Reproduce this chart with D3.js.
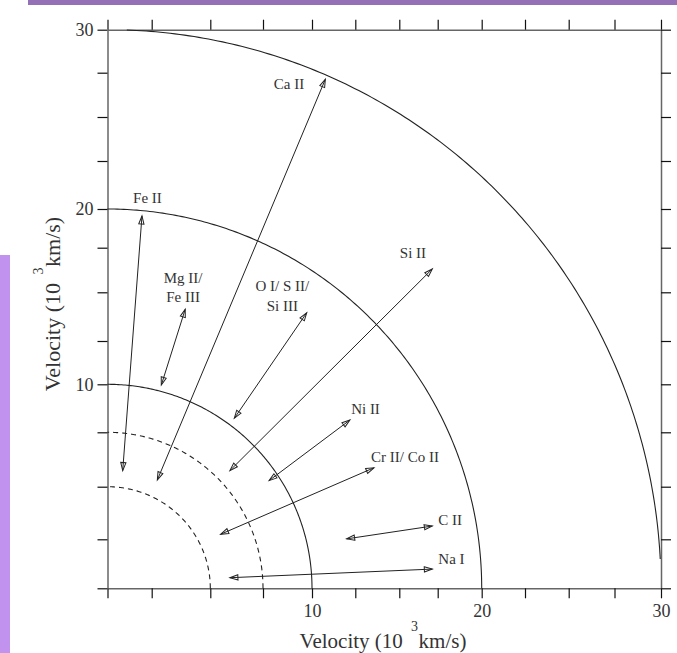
<!DOCTYPE html>
<html>
<head>
<meta charset="utf-8">
<script src="https://cdn.jsdelivr.net/npm/d3@7"></script>
<style>
  html, body { margin: 0; padding: 0; background: #fff; }
  svg { display: block; }
  text { font-family: "Liberation Serif", "DejaVu Serif", serif; fill: #333; }
</style>
</head>
<body>
<svg id="chart" width="677" height="653"></svg>
<script>
// Ion velocity ranges in the ejecta (units: 10^3 km/s).
const ionLabels = [
  ["Ca II"], ["Fe II"], ["Mg II/", "Fe III"], ["O I/ S II/", "Si III"],
  ["Si II"], ["Ni II"], ["Cr II/ Co II"], ["C II"], ["Na I"]
];
const rangeFrom = [
  [2.74, 5.31], [0.86, 5.74], [2.91, 9.96], [6.14, 8.23],
  [5.93, 5.74], [7.81, 5.28], [5.49, 2.74], [12.0, 2.52], [5.93, 0.54]
];
const rangeTo = [
  [10.77, 27.13], [1.95, 19.55], [3.93, 14.13], [9.73, 13.95],
  [17.15, 16.31], [12.19, 8.14], [13.56, 5.87], [17.15, 3.13], [17.15, 0.98]
];
const labelAt = [
  [8.83, 26.90], [2.26, 20.57], [3.84, 15.84], [8.49, 15.35],
  [15.89, 17.19], [13.08, 8.71], [15.37, 6.38], [18.2, 3.42], [18.28, 1.53]
];

// Velocity shells: dashed inner shells, solid outer shells.
const dashedShells = [5, 7.5];
const solidShells = [10, 20];
const outerShell = [30];

// Axis ticks.
const tickValues = [0, 2.5, 5, 7.5, 10, 12.5, 15, 17.5, 20, 22.5, 25, 27.5, 30];
const labelledTicks = [10, 20, 30];

const svg = d3.select("#chart");

// Page decoration bars.
svg.append("rect").attr("x", 28).attr("y", 0).attr("width", 649).attr("height", 5).attr("fill", "#9470b6");
svg.append("rect").attr("x", 0).attr("y", 255).attr("width", 10).attr("height", 398).attr("fill", "#c293ee");

// The plotted axes are not evenly spaced, so both scales are polylinear,
// one stop per tick.
const x = d3.scaleLinear()
  .domain(tickValues)
  .range([107.5, 151.7, 210.3, 263, 312, 355.3, 399.3, 437.7, 481.7, 525, 568.7, 614.5, 661]);
const y = d3.scaleLinear()
  .domain(tickValues)
  .range([588.3, 539.3, 486.7, 432.3, 384.3, 341, 292.3, 247.7, 209, 161, 117, 72.7, 29.7]);

const fmt = d => labelledTicks.includes(d) ? d3.format("d")(d) : "";

function styleAxis(g) {
  g.select(".domain").attr("stroke", "#666").attr("stroke-width", 1.5);
  g.selectAll(".tick line").attr("stroke", "#111").attr("stroke-width", 1.2);
  g.selectAll(".tick text")
    .attr("font-family", "Liberation Serif, serif")
    .attr("font-size", 18)
    .attr("fill", "#333");
}

svg.append("g")
  .attr("transform", `translate(0,${y(0)})`)
  .call(d3.axisBottom(x).tickValues(tickValues).tickFormat(fmt).tickSize(10).tickSizeOuter(0).tickPadding(6))
  .call(styleAxis);
svg.append("g")
  .attr("transform", `translate(0,${y(30)})`)
  .call(d3.axisTop(x).tickValues(tickValues).tickFormat("").tickSize(10).tickSizeOuter(0))
  .call(styleAxis);
svg.append("g")
  .attr("transform", `translate(${x(0)},0)`)
  .call(d3.axisLeft(y).tickValues(tickValues).tickFormat(fmt).tickSize(10).tickSizeOuter(0).tickPadding(4))
  .call(styleAxis);
svg.append("g")
  .attr("transform", `translate(${x(30)},0)`)
  .call(d3.axisRight(y).tickValues(tickValues).tickFormat("").tickSize(10).tickSizeOuter(0))
  .call(styleAxis);

// Shell outlines: quarter curves through the shell radius on each axis.
const deg = Math.PI / 180;
function shellPath(r, a0, a1) {
  const rx = x(r) - x(0), ry = y(0) - y(r);
  const angles = d3.range(a0, a1 + 0.001, 0.5).map(a => a * deg);
  return d3.line()
    .x(a => x(0) + rx * Math.cos(a))
    .y(a => y(0) - ry * Math.sin(a))(angles);
}

const shells = svg.append("g").attr("fill", "none").attr("stroke", "#222");
shells.selectAll(".dashed").data(dashedShells).join("path")
  .attr("class", "dashed")
  .attr("d", r => shellPath(r, 0, 90))
  .attr("stroke-width", 1.1)
  .attr("stroke-dasharray", "5,4");
shells.selectAll(".solid").data(solidShells).join("path")
  .attr("class", "solid")
  .attr("d", r => shellPath(r, 0, 90))
  .attr("stroke-width", 1.1);
shells.selectAll(".outer").data(outerShell).join("path")
  .attr("class", "outer")
  .attr("d", r => shellPath(r, 3, 88))
  .attr("stroke-width", 1.1);

// Arrowhead marker used at both ends of each velocity range.
svg.append("defs").append("marker")
  .attr("id", "head")
  .attr("viewBox", "-10 -5 12 10")
  .attr("refX", 0).attr("refY", 0)
  .attr("markerWidth", 12).attr("markerHeight", 10)
  .attr("markerUnits", "userSpaceOnUse")
  .attr("orient", "auto-start-reverse")
  .append("path")
  .attr("d", "M-8,-2.6L0,0L-8,2.6Z")
  .attr("fill", "none")
  .attr("stroke", "#222")
  .attr("stroke-width", 1);

const ranges = ionLabels.map((lab, i) => ({ lab, from: rangeFrom[i], to: rangeTo[i], at: labelAt[i] }));

svg.append("g").selectAll("line").data(ranges).join("line")
  .attr("x1", d => x(d.from[0])).attr("y1", d => y(d.from[1]))
  .attr("x2", d => x(d.to[0])).attr("y2", d => y(d.to[1]))
  .attr("stroke", "#222").attr("stroke-width", 1)
  .attr("marker-start", "url(#head)")
  .attr("marker-end", "url(#head)");

const labels = svg.append("g").selectAll("text").data(ranges).join("text")
  .attr("x", d => x(d.at[0]))
  .attr("y", d => y(d.at[1]))
  .attr("text-anchor", "middle")
  .attr("font-size", 15);
labels.selectAll("tspan").data(d => d.lab.map(t => ({ t, x: x(d.at[0]) }))).join("tspan")
  .attr("x", d => d.x)
  .attr("dy", (d, i) => i === 0 ? "0.35em" : "19.5px")
  .text(d => d.t);

// Axis titles with the raised exponent.
function title(sel, size) {
  sel.attr("text-anchor", "middle").attr("font-size", size);
  sel.append("tspan").text("Velocity (10 ");
  sel.append("tspan").attr("font-size", 14).attr("dx", 3).attr("dy", -17).text("3");
  sel.append("tspan").attr("dx", 0.5).attr("dy", 17).text("km/s)");
}
svg.append("text").attr("x", 383).attr("y", 648).call(title, 21);
svg.append("text").attr("transform", "translate(60,304) rotate(-90)").call(title, 22);
</script>
</body>
</html>
